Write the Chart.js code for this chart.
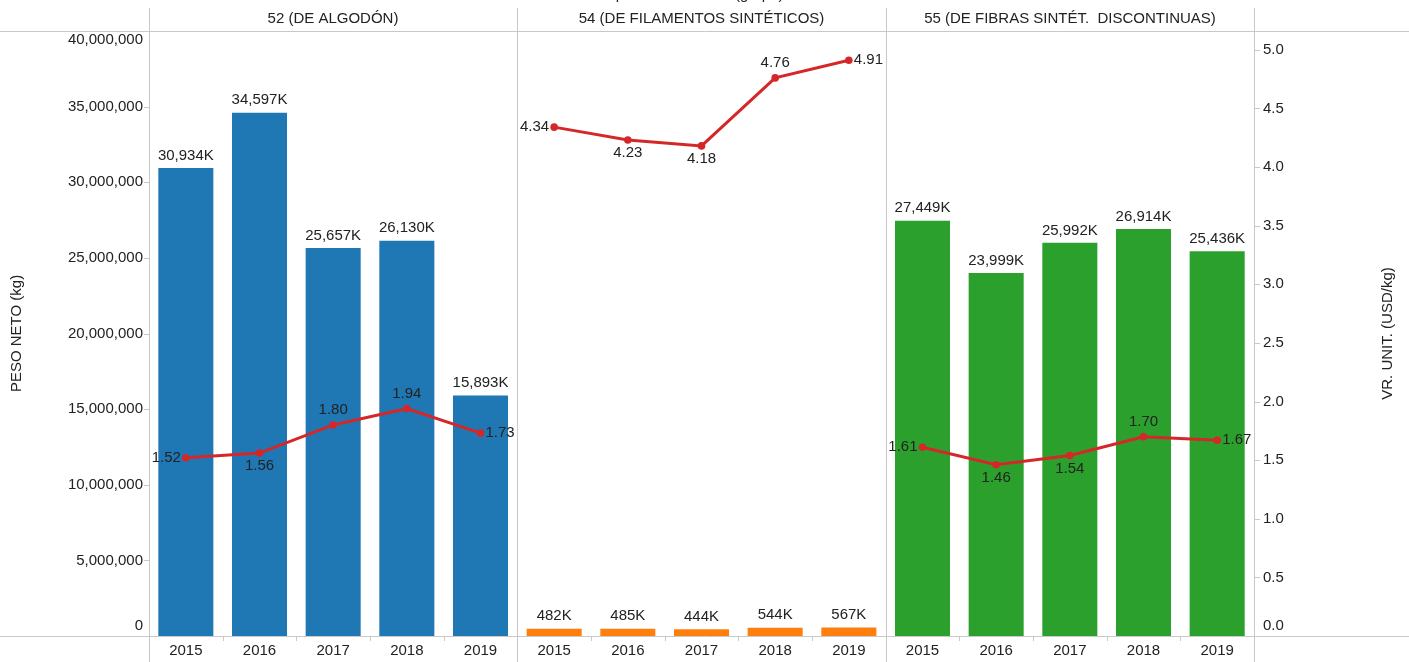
<!DOCTYPE html>
<html>
<head>
<meta charset="utf-8">
<script src="https://cdn.jsdelivr.net/npm/chart.js@4.4.1/dist/chart.umd.min.js"></script>
<style>
  html, body { margin: 0; padding: 0; background: #fff; }
  #wrap { width: 1409px; height: 662px; position: relative; }
</style>
</head>
<body>
<div id="wrap"><canvas id="chart" width="1409" height="662"></canvas></div>
<script>
// Years shown inside each chapter panel
const years = ['2015', '2016', '2017', '2018', '2019'];

// Chapter panels
const groups = ['52 (DE ALGODÓN)', '54 (DE FILAMENTOS SINTÉTICOS)', '55 (DE FIBRAS SINTÉT.  DISCONTINUAS)'];

// Net weight (kg) per year
const pesoAlgodon = [30934000, 34597000, 25657000, 26130000, 15893000];
const pesoFilamentos = [482000, 485000, 444000, 544000, 567000];
const pesoFibras = [27449000, 23999000, 25992000, 26914000, 25436000];

// Unit value (USD/kg) per year
const vrAlgodon = [1.52, 1.56, 1.80, 1.94, 1.73];
const vrFilamentos = [4.34, 4.23, 4.18, 4.76, 4.91];
const vrFibras = [1.61, 1.46, 1.54, 1.70, 1.67];

// Axis tick values
const pesoTicks = [0, 5000000, 10000000, 15000000, 20000000, 25000000, 30000000, 35000000, 40000000];
const vrTicks = [0, 0.5, 1.0, 1.5, 2.0, 2.5, 3.0, 3.5, 4.0, 4.5, 5.0];

// Where each unit-value label sits relative to its point
const vrLabelPos = [
  ['left', 'below', 'above', 'above', 'right'],
  ['left', 'below', 'below', 'above', 'right'],
  ['left', 'below', 'below', 'above', 'right']
];

const panelColors = ['#1f77b4', '#ff7f0e', '#2ca02c'];
const lineColor = '#d62728';
const gridColor = '#c8c8c8';
const textColor = '#222';
const FONT = '"Liberation Sans", Arial, sans-serif';

const pesoSeries = [pesoAlgodon, pesoFilamentos, pesoFibras];
const vrSeries = [vrAlgodon, vrFilamentos, vrFibras];

const labels = [];
const barData = [];
const barColors = [];
groups.forEach((g, gi) => {
  years.forEach((y, yi) => {
    labels.push(y);
    barData.push(pesoSeries[gi][yi]);
    barColors.push(panelColors[gi]);
  });
});

const lineSets = vrSeries.map((vals, gi) => {
  const data = new Array(groups.length * years.length).fill(null);
  vals.forEach((v, yi) => { data[gi * years.length + yi] = v; });
  return {
    type: 'line',
    label: 'VR. UNIT. ' + groups[gi],
    data,
    yAxisID: 'y1',
    borderColor: lineColor,
    backgroundColor: lineColor,
    borderWidth: 3,
    pointRadius: 3.8,
    pointHoverRadius: 3.8,
    pointBackgroundColor: lineColor,
    pointBorderWidth: 0,
    tension: 0,
    spanGaps: false,
    order: 1,
    groupIndex: gi
  };
});

const fmtInt = new Intl.NumberFormat('en-US');

const framePlugin = {
  id: 'frame',
  beforeDraw(chart) {
    const { ctx, chartArea: a, scales } = chart;
    const W = chart.width, H = chart.height;
    const xs = scales.x;
    ctx.save();
    ctx.fillStyle = '#fff';
    ctx.fillRect(0, 0, W, H);

    // panel boundaries
    const n = years.length;
    const bounds = [a.left];
    for (let g = 1; g < groups.length; g++) {
      bounds.push(Math.round((xs.getPixelForValue(g * n - 1) + xs.getPixelForValue(g * n)) / 2));
    }
    bounds.push(a.right);

    ctx.strokeStyle = gridColor;
    ctx.lineWidth = 1;
    // header rule and baseline
    ctx.beginPath();
    ctx.moveTo(0, a.top + 0.5); ctx.lineTo(W, a.top + 0.5);
    ctx.moveTo(0, a.bottom + 0.5); ctx.lineTo(W, a.bottom + 0.5);
    ctx.stroke();
    // vertical panel dividers
    ctx.beginPath();
    bounds.forEach(b => { ctx.moveTo(Math.round(b) + 0.5, 8); ctx.lineTo(Math.round(b) + 0.5, H); });
    ctx.stroke();
    // small ticks between years
    ctx.beginPath();
    for (let i = 1; i < labels.length; i++) {
      if (i % n === 0) continue;
      const x = Math.round((xs.getPixelForValue(i - 1) + xs.getPixelForValue(i)) / 2) + 0.5;
      ctx.moveTo(x, a.bottom); ctx.lineTo(x, a.bottom + 5);
    }
    ctx.stroke();

    // header titles
    ctx.fillStyle = textColor;
    ctx.font = '15px ' + FONT;
    ctx.textAlign = 'center';
    ctx.textBaseline = 'middle';
    groups.forEach((g, gi) => {
      ctx.fillText(g, (bounds[gi] + bounds[gi + 1]) / 2, 19);
    });
    // column-header caption, mostly above the top edge
    ctx.textBaseline = 'alphabetic';
    ctx.fillText('Capítulo arancelario (grupo)', 690, -1);

    // left axis ticks
    const yl = scales.y, yr = scales.y1;
    ctx.textBaseline = 'middle';
    ctx.textAlign = 'right';
    ctx.beginPath();
    pesoTicks.forEach(v => {
      const p = yl.getPixelForValue(v);
      const ly = Math.min(Math.max(p, a.top + 9), a.bottom - 10);
      ctx.fillText(fmtInt.format(v), a.left - 6, ly);
      if (p > a.top + 4 && p < a.bottom - 4) {
        ctx.moveTo(a.left - 5, Math.round(p) + 0.5); ctx.lineTo(a.left, Math.round(p) + 0.5);
      }
    });
    // right axis ticks
    ctx.textAlign = 'left';
    vrTicks.forEach(v => {
      const p = yr.getPixelForValue(v);
      const ly = Math.min(Math.max(p, a.top + 9), a.bottom - 10);
      ctx.fillText(v.toFixed(1), a.right + 9, ly);
      if (p > a.top + 4 && p < a.bottom - 4) {
        ctx.moveTo(a.right + 1, Math.round(p) + 0.5); ctx.lineTo(a.right + 6, Math.round(p) + 0.5);
      }
    });
    ctx.stroke();

    // axis titles
    ctx.textAlign = 'center';
    ctx.save();
    ctx.translate(17, (a.top + a.bottom) / 2);
    ctx.rotate(-Math.PI / 2);
    ctx.fillText('PESO NETO (kg)', 0, 0);
    ctx.restore();
    ctx.save();
    ctx.translate(1388, (a.top + a.bottom) / 2);
    ctx.rotate(-Math.PI / 2);
    ctx.fillText('VR. UNIT. (USD/kg)', 0, 0);
    ctx.restore();
    ctx.restore();
  },
  afterDatasetsDraw(chart) {
    const { ctx } = chart;
    ctx.save();
    ctx.fillStyle = textColor;
    ctx.font = '15px ' + FONT;
    // bar value labels
    const barMeta = chart.getDatasetMeta(0);
    ctx.textAlign = 'center';
    ctx.textBaseline = 'bottom';
    barMeta.data.forEach((el, i) => {
      const v = chart.data.datasets[0].data[i];
      ctx.fillText(fmtInt.format(Math.round(v / 1000)) + 'K', el.x, el.y - 5);
    });
    // unit value labels
    for (let d = 1; d < chart.data.datasets.length; d++) {
      const ds = chart.data.datasets[d];
      const meta = chart.getDatasetMeta(d);
      const gi = ds.groupIndex;
      meta.data.forEach((el, i) => {
        const v = ds.data[i];
        if (v === null) return;
        const pos = vrLabelPos[gi][i - gi * years.length];
        let x = el.x, y = el.y;
        if (pos === 'left') { ctx.textAlign = 'right'; ctx.textBaseline = 'middle'; x -= 5; }
        else if (pos === 'right') { ctx.textAlign = 'left'; ctx.textBaseline = 'middle'; x += 5; }
        else if (pos === 'above') { ctx.textAlign = 'center'; ctx.textBaseline = 'middle'; y -= 15; }
        else { ctx.textAlign = 'center'; ctx.textBaseline = 'middle'; y += 13; }
        ctx.fillText(v.toFixed(2), x, y);
      });
    }
    ctx.restore();
  }
};

new Chart(document.getElementById('chart'), {
  data: {
    labels,
    datasets: [
      {
        type: 'bar',
        label: 'PESO NETO (kg)',
        data: barData,
        backgroundColor: barColors,
        yAxisID: 'y',
        barPercentage: 0.747,
        categoryPercentage: 1,
        order: 2
      },
      ...lineSets
    ]
  },
  options: {
    responsive: false,
    animation: false,
    devicePixelRatio: 1,
    layout: { padding: { top: 31, left: 0, right: 0, bottom: 0 } },
    plugins: { legend: { display: false }, tooltip: { enabled: false } },
    scales: {
      x: {
        type: 'category',
        offset: true,
        grid: { display: false },
        border: { display: false },
        ticks: { color: textColor, font: { size: 15, family: FONT }, maxRotation: 0, autoSkip: false, padding: -2 },
        afterFit(s) { s.height = 26; }
      },
      y: {
        position: 'left',
        min: 0,
        max: 40000000,
        grid: { display: false },
        border: { display: false },
        ticks: { display: false },
        afterFit(s) { s.width = 149; }
      },
      y1: {
        position: 'right',
        min: 0,
        max: 5.16,
        grid: { display: false },
        border: { display: false },
        ticks: { display: false },
        afterFit(s) { s.width = 155; }
      }
    }
  },
  plugins: [framePlugin]
});
</script>
</body>
</html>
